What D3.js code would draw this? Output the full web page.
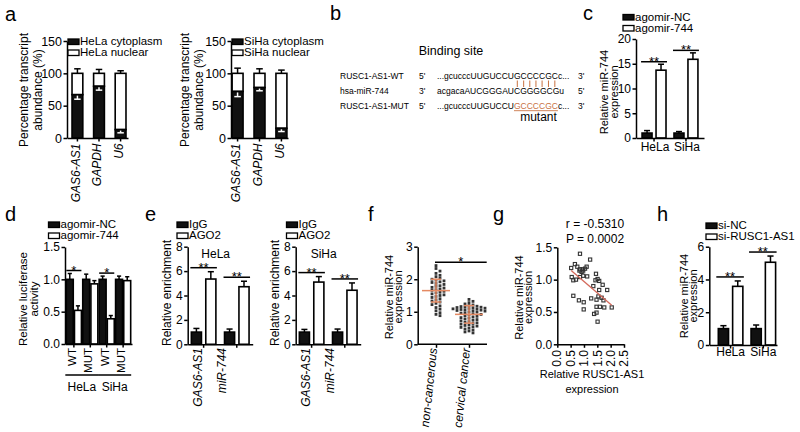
<!DOCTYPE html>
<html><head><meta charset="utf-8">
<script src="https://cdn.jsdelivr.net/npm/d3@7"></script>
<style>body{margin:0;background:#fff;}svg{display:block;}</style>
</head><body>
<svg id="chart" width="800" height="432"></svg>
<script>
// ---------------- DATA ----------------
// Panel a
const aCategories = ["GAS6-AS1", "GAPDH", "U6"];
const aTicks = [0, 50, 100, 150];
const aHelaCyto = [67, 80, 13];
const aHelaCytoErr = [7, 6, 5];
const aHelaNucErr = [7, 6, 4];
const aSihaCyto = [72, 78, 15];
const aSihaCytoErr = [8, 5, 5];
const aSihaNucErr = [8, 7, 5];
// Panel b
const bRowLabels = ["RUSC1-AS1-WT", "hsa-miR-744", "RUSC1-AS1-MUT"];
const bLeftEnds = ["5'", "3'", "5'"];
const bRightEnds = ["3'", "5'", "3'"];
const bSeqPrefix = ["...gcucccUUGUCCU", "acgacaAUCGGGAUCGGGGCGu", "...gcucccUUGUCCU"];
const bSeqSite = ["GCCCCGC", "", "GCCCCGC"];
const bSeqSuffix = ["c...", "", "c..."];
// Panel c
const cGroups = ["HeLa", "SiHa"];
const cSeries = ["agomir-NC", "agomir-744"];
const cValues = [[1.0, 13.7], [1.0, 15.9]];
const cErrors = [[0.5, 1.2], [0.3, 1.3]];
const cTicks = [0, 5, 10, 15, 20];
// Panel d
const dGroups = ["HeLa-WT", "HeLa-MUT", "SiHa-WT", "SiHa-MUT"];
const dGroupLabels = ["WT", "MUT", "WT", "MUT"];
const dCells = ["HeLa", "SiHa"];
const dSeries = ["agomir-NC", "agomir-744"];
const dValues = [[1.0, 0.52], [1.0, 0.93], [1.0, 0.39], [1.0, 0.98]];
const dErrors = [[0.09, 0.07], [0.08, 0.05], [0.05, 0.05], [0.05, 0.06]];
const dTicks = [0, 0.5, 1.0, 1.5];
// Panel e
const eGroups = ["GAS6-AS1", "miR-744"];
const eSeries = ["IgG", "AGO2"];
const eHelaValues = [[1.0, 5.35], [1.0, 4.72]];
const eHelaErrors = [[0.3, 0.6], [0.25, 0.45]];
const eSihaValues = [[1.0, 5.1], [1.0, 4.43]];
const eSihaErrors = [[0.22, 0.45], [0.25, 0.6]];
const eTicks = [0, 2, 4, 6, 8];
// Panel f
const fGroups = ["non-cancerous", "cervical cancer"];
const fNonCancerous = [2.42, 2.33, 2.25, 2.18, 2.12, 2.08, 2.03, 2.0, 1.97, 1.95, 1.92, 1.9, 1.87, 1.84,
  1.8, 1.78, 1.75, 1.73, 1.7, 1.68, 1.66, 1.63, 1.6, 1.58, 1.55, 1.52, 1.5, 1.47, 1.44, 1.4, 1.37,
  1.33, 1.3, 1.26, 1.22, 1.18, 1.13, 1.08, 1.03, 0.97, 0.92, 0.88];
const fCervical = [1.38, 1.32, 1.28, 1.24, 1.21, 1.19, 1.17, 1.16, 1.15, 1.14, 1.13, 1.12, 1.11, 1.1,
  1.09, 1.08, 1.07, 1.06, 1.05, 1.04, 1.03, 1.02, 1.0, 0.99, 0.97, 0.96, 0.94, 0.92, 0.9, 0.88, 0.86,
  0.84, 0.82, 0.8, 0.78, 0.76, 0.74, 0.72, 0.7, 0.68, 0.66, 0.64, 0.62, 0.6, 0.58, 0.56, 0.54, 0.52,
  0.5, 0.47, 0.44, 0.41, 0.38, 0.35];
const fMeans = [1.65, 0.92];
const fSD = [0.35, 0.27];
const fTicks = [0, 1, 2, 3];
// Panel g
const gRUSC1 = [0.85, 1.23, 0.66, 0.52, 0.75, 0.85, 0.95, 1.04, 1.10, 0.91, 0.83, 0.97, 0.54, 0.70, 0.60, 0.85, 0.97, 1.12, 1.45, 1.51, 1.43, 1.57, 1.70, 1.35, 1.57, 1.87, 0.60, 0.81, 0.99, 1.27, 1.47, 1.66, 1.73, 2.04, 0.99, 1.47, 1.60, 1.76, 1.38, 1.47, 1.51, 1.54];
const gMiR744 = [1.40, 1.31, 1.24, 1.18, 1.20, 1.16, 1.16, 1.17, 1.20, 1.12, 1.14, 1.14, 1.04, 1.00, 0.99, 1.04, 1.06, 1.05, 1.09, 1.01, 0.99, 0.98, 0.92, 0.90, 0.84, 0.84, 0.75, 0.68, 0.65, 0.71, 0.69, 0.72, 0.68, 0.57, 0.54, 0.58, 0.58, 0.57, 0.47, 0.49, 0.35, 0.74];
const gTicksY = [0, 0.5, 1.0, 1.5];
const gTicksX = [0, 0.5, 1.0, 1.5, 2.0, 2.5];
const gStats = ["r = -0.5310", "P = 0.0002"];
// Panel h
const hGroups = ["HeLa", "SiHa"];
const hSeries = ["si-NC", "si-RUSC1-AS1"];
const hValues = [[1.0, 3.58], [1.0, 5.05]];
const hErrors = [[0.18, 0.33], [0.22, 0.38]];
const hTicks = [0, 2, 4, 6];

// ---------------- HELPERS ----------------
const FONT = '"Liberation Sans", Arial, Helvetica, sans-serif';
const svg = d3.select("#chart");
const BLACK = "#111", ORANGE = "#c8713f", SALMON = "#e58a63";

function txt(g, x, y, s, o = {}) {
  const t = g.append("text").attr("x", x).attr("y", y).text(s)
    .attr("font-family", FONT).attr("font-size", o.fs || 12)
    .attr("fill", o.fill || "#000").attr("text-anchor", o.anchor || "start");
  if (o.style) t.attr("font-style", o.style);
  if (o.dy) t.attr("dy", o.dy);
  if (o.rot != null) t.attr("transform", `rotate(${o.rot},${x},${y})`);
  return t;
}
function styleAxis(sel, fs) {
  sel.attr("font-family", FONT).attr("font-size", fs);
  sel.select(".domain").attr("stroke", "#000").attr("stroke-width", 1.5);
  sel.selectAll(".tick line").attr("stroke", "#000").attr("stroke-width", 1.5);
  sel.selectAll(".tick text").attr("fill", "#000");
}
function yAxis(g, y, x, ticks, fmt, fs) {
  g.append("g").attr("transform", `translate(${x},0)`)
    .call(d3.axisLeft(y).tickValues(ticks).tickFormat(fmt).tickSize(3.5).tickPadding(1.5).tickSizeOuter(0))
    .call(styleAxis, fs);
}
function yLabel(g, lines, xs, cy, fs) {
  lines.forEach((l, i) => txt(g, xs[i], cy, l, {fs, anchor: "middle", rot: -90}));
}
function legend(g, x, baseY, items, fs, lh = 11, rw = 11, rh = 5.5) {
  items.forEach((it, i) => {
    const by = baseY + i * lh;
    g.append("rect").attr("x", x).attr("y", by - rh - 0.5).attr("width", rw).attr("height", rh)
      .attr("fill", it.fill).attr("stroke", "#000").attr("stroke-width", 1.3);
    txt(g, x + rw + 1, by, it.label, {fs});
  });
}
function sig(g, x1, x2, yl, s) {
  g.append("line").attr("x1", x1).attr("x2", x2).attr("y1", yl).attr("y2", yl)
    .attr("stroke", "#000").attr("stroke-width", 1.5);
  txt(g, (x1 + x2) / 2, yl + 4, s, {fs: 13, anchor: "middle"});
}
function errBar(g, cx, yFrom, yTo, cap, color) {
  g.append("line").attr("x1", cx).attr("x2", cx).attr("y1", yFrom).attr("y2", yTo)
    .attr("stroke", color).attr("stroke-width", 1.5);
  g.append("line").attr("x1", cx - cap / 2).attr("x2", cx + cap / 2).attr("y1", yTo).attr("y2", yTo)
    .attr("stroke", color).attr("stroke-width", 1.5);
}
function barPanel(o) {
  const g = svg.append("g");
  const y = d3.scaleLinear().domain([0, o.yMax]).range([o.y0, o.y1]);
  const x0 = d3.scaleBand().domain(o.groups).range([o.xa, o.xb])
    .paddingInner(o.pi).paddingOuter(o.po).align(o.align == null ? 0.5 : o.align);
  const x1 = d3.scaleBand().domain(o.series).range([0, x0.bandwidth()]).paddingInner(o.ip);
  o.groups.forEach((grp, gi) => {
    o.series.forEach((s, si) => {
      const v = o.values[gi][si], e = o.errors[gi][si];
      const bx = x0(grp) + x1(s), bw = x1.bandwidth();
      errBar(g, bx + bw / 2, y(v), y(v + e), bw * 0.6, "#000");
      g.append("rect").attr("x", bx).attr("y", y(v)).attr("width", bw).attr("height", y(0) - y(v))
        .attr("fill", si === 0 ? BLACK : "#fff").attr("stroke", "#000").attr("stroke-width", 1.6);
    });
  });
  g.append("g").attr("transform", `translate(0,${o.y0})`)
    .call(d3.axisBottom(x0).tickSize(3.5).tickFormat("").tickSizeOuter(0)).call(styleAxis, o.fs);
  yAxis(g, y, o.xa, o.ticks, o.fmt || d3.format("d"), o.fs);
  return {g, x0, x1, y};
}

// ---------------- PANEL LETTERS ----------------
[["a", 5, 21], ["b", 330, 20], ["c", 583, 20], ["d", 5, 221], ["e", 145, 221],
 ["f", 368, 221], ["g", 493, 221], ["h", 657, 221]].forEach(([l, x, y]) => txt(svg, x, y, l, {fs: 20}));

// ---------------- PANEL a ----------------
function stacked(xa, xb, po, align, cyto, cytoErr, nucErr, cell, ylx) {
  const g = svg.append("g");
  const y = d3.scaleLinear().domain([0, 150]).range([138, 41]);
  const x = d3.scaleBand().domain(aCategories).range([xa, xb]).paddingInner(0.5).paddingOuter(po).align(align);
  aCategories.forEach((c, i) => {
    const bx = x(c), bw = x.bandwidth(), cx = bx + bw / 2;
    errBar(g, cx, y(100), y(100 + nucErr[i]), bw * 0.6, "#000");
    g.append("rect").attr("x", bx).attr("y", y(100)).attr("width", bw).attr("height", y(cyto[i]) - y(100))
      .attr("fill", "#fff").attr("stroke", "#000").attr("stroke-width", 1.6);
    g.append("rect").attr("x", bx).attr("y", y(cyto[i])).attr("width", bw).attr("height", y(0) - y(cyto[i]))
      .attr("fill", BLACK).attr("stroke", "#000").attr("stroke-width", 1.6);
    errBar(g, cx, y(cyto[i]) + 1, y(cyto[i] - cytoErr[i]), bw * 0.6, "#fff");
    txt(g, cx - 2, 143.5, c, {fs: 12, anchor: "end", rot: -90, dy: "0.35em", style: "italic"});
  });
  g.append("g").attr("transform", "translate(0,138)")
    .call(d3.axisBottom(x).tickSize(3.5).tickFormat("").tickSizeOuter(0)).call(styleAxis, 12);
  yAxis(g, y, xa, aTicks, d3.format("d"), 12.5);
  yLabel(g, ["Percentage transcript", "abundance (%)"], ylx, 90, 12);
  legend(g, xa + 1, 45, [{label: cell + " cytoplasm", fill: BLACK}, {label: cell + " nuclear", fill: "#fff"}], 11.5, 11);
}
stacked(67, 128, 0.163, 0.714, aHelaCyto, aHelaCytoErr, aHelaNucErr, "HeLa", [28, 42]);
stacked(231, 288, 0.05, 0.5, aSihaCyto, aSihaCytoErr, aSihaNucErr, "SiHa", [189, 203]);

// ---------------- PANEL b ----------------
{
  const g = svg.append("g");
  txt(g, 451, 54.5, "Binding site", {fs: 12.5, anchor: "middle"});
  const rowY = [79.3, 93.6, 109.3];
  let siteText = null;
  bRowLabels.forEach((lab, i) => {
    txt(g, 340, rowY[i], lab, {fs: 8.5});
    txt(g, 419, rowY[i], bLeftEnds[i], {fs: 8.5});
    txt(g, 578, rowY[i], bRightEnds[i], {fs: 8.5});
    const t = txt(g, 437, rowY[i], "", {fs: 8.5});
    t.append("tspan").text(bSeqPrefix[i]);
    if (bSeqSite[i]) {
      const ts = t.append("tspan").text(bSeqSite[i]);
      if (i === 2) ts.attr("fill", ORANGE).attr("text-decoration", "underline");
    }
    if (bSeqSuffix[i]) t.append("tspan").text(bSeqSuffix[i]);
    if (i === 0) siteText = t;
  });
  const node = siteText.node();
  const start = bSeqPrefix[0].length;
  for (let k = 0; k < bSeqSite[0].length; k++) {
    const p = node.getStartPositionOfChar(start + k).x + node.getSubStringLength(start + k, 1) / 2;
    g.append("line").attr("x1", p).attr("x2", p).attr("y1", 80.5).attr("y2", 87)
      .attr("stroke", ORANGE).attr("stroke-width", 1);
  }
  txt(g, 538.5, 121, "mutant", {fs: 12, anchor: "middle"});
}

// ---------------- PANEL c ----------------
{
  const p = barPanel({groups: cGroups, series: cSeries, values: cValues, errors: cErrors,
    yMax: 20, y0: 138, y1: 39, xa: 636, xb: 704, pi: 0.25, po: 0.19, ip: 0.286, ticks: cTicks, fs: 12});
  cGroups.forEach((grp, gi) => {
    const cx = p.x0(grp) + p.x0.bandwidth() / 2;
    txt(p.g, cx + 1, 151, grp, {fs: 12, anchor: "middle"});
    const top = d3.max(cValues[gi].map((v, i) => v + cErrors[gi][i]));
    sig(p.g, p.x0(grp) - 1, p.x0(grp) + p.x0.bandwidth() + 1, p.y(top) - 2.5, "**");
  });
  yLabel(p.g, ["Relative  miR-744", "expression"], [608, 618], 92, 11);
  legend(p.g, 623, 20.5, cSeries.map((s, i) => ({label: s, fill: i ? "#fff" : BLACK})), 11.5, 11);
}

// ---------------- PANEL d ----------------
{
  const p = barPanel({groups: dGroups, series: dSeries, values: dValues, errors: dErrors,
    yMax: 1.5, y0: 344, y1: 247, xa: 65, xb: 132, pi: 0.08, po: 0.08, ip: 0.15, ticks: dTicks,
    fmt: d3.format(".1f"), fs: 12});
  dGroups.forEach((grp, gi) => {
    const cx = p.x0(grp) + p.x0.bandwidth() / 2;
    txt(p.g, cx - 2, 348, dGroupLabels[gi], {fs: 11.5, anchor: "end", rot: -90, dy: "0.35em"});
  });
  [0, 2].forEach(gi => {
    const top = d3.max(dValues[gi].map((v, i) => v + dErrors[gi][i]));
    sig(p.g, p.x0(dGroups[gi]), p.x0(dGroups[gi]) + p.x0.bandwidth(), p.y(top) - 3, "*");
  });
  dCells.forEach((cell, ci) => {
    const xs = p.x0(dGroups[ci * 2]) - 1, xe = p.x0(dGroups[ci * 2 + 1]) + p.x0.bandwidth() + 0.5;
    p.g.append("line").attr("x1", xs).attr("x2", xe).attr("y1", 375).attr("y2", 375).attr("stroke", "#000").attr("stroke-width", 1.3);
    txt(p.g, (xs + xe) / 2, 390.5, cell, {fs: 12, anchor: "middle"});
  });
  yLabel(p.g, ["Relative luciferase", "activity"], [27, 38], 299, 11.5);
  legend(p.g, 48.5, 228, dSeries.map((s, i) => ({label: s, fill: i ? "#fff" : BLACK})), 11.5, 11);
}

// ---------------- PANEL e ----------------
function ePanel(xa, vals, errs, cell, ylx, legX) {
  const p = barPanel({groups: eGroups, series: eSeries, values: vals, errors: errs,
    yMax: 8, y0: 344.3, y1: 246.7, xa: xa, xb: xa + 65, pi: 0.26, po: 0.11, ip: 0.3, ticks: eTicks, fs: 12});
  const offs = [-6, -15];
  eGroups.forEach((grp, gi) => {
    const cx = p.x0(grp) + p.x0.bandwidth() / 2;
    txt(p.g, cx + offs[gi], 348, grp, {fs: 12, anchor: "end", rot: -90, dy: "0.35em", style: "italic"});
    const top = d3.max(vals[gi].map((v, i) => v + errs[gi][i]));
    sig(p.g, p.x0(grp) - 1, p.x0(grp) + p.x0.bandwidth() + 1, p.y(top) - 4, "**");
  });
  txt(p.g, xa + 28, 258, cell, {fs: 12, anchor: "middle"});
  yLabel(p.g, ["Relative enrichment"], [ylx], 293, 12);
  legend(p.g, legX, 228, eSeries.map((s, i) => ({label: s, fill: i ? "#fff" : BLACK})), 11.5, 11);
}
ePanel(187.7, eHelaValues, eHelaErrors, "HeLa", 171, 177);
ePanel(295.7, eSihaValues, eSihaErrors, "SiHa", 279, 286.5);

// ---------------- PANEL f ----------------
{
  const g = svg.append("g");
  const y = d3.scaleLinear().domain([0, 3]).range([344.3, 246.7]);
  const x = d3.scalePoint().domain(fGroups).range([436, 469]);
  const sets = [fNonCancerous, fCervical];
  sets.forEach((arr, gi) => {
    const cx = x(fGroups[gi]);
    const placed = [];
    arr.slice().sort((a, b) => b - a).forEach(v => {
      const py = y(v);
      let off = 0;
      for (let k = 0; k < 40; k++) {
        const cand = (k % 2 ? 1 : -1) * Math.ceil(k / 2) * 4;
        if (!placed.some(q => Math.abs(q.y - py) < 2.8 && Math.abs(q.x - (cx + cand)) < 3.6)) { off = cand; break; }
      }
      placed.push({x: cx + off, y: py});
    });
    g.selectAll(null).data(placed).enter().append("rect")
      .attr("x", d => d.x - 1.4).attr("y", d => d.y - 1.4).attr("width", 2.8).attr("height", 2.8).attr("fill", "#333");
    const m = fMeans[gi], s = fSD[gi];
    g.append("line").attr("x1", cx - 14).attr("x2", cx + 14).attr("y1", y(m)).attr("y2", y(m)).attr("stroke", SALMON).attr("stroke-width", 1.5);
    g.append("line").attr("x1", cx).attr("x2", cx).attr("y1", y(m - s)).attr("y2", y(m + s)).attr("stroke", SALMON).attr("stroke-width", 1.5);
    [m - s, m + s].forEach(v => g.append("line").attr("x1", cx - 5).attr("x2", cx + 5).attr("y1", y(v)).attr("y2", y(v)).attr("stroke", SALMON).attr("stroke-width", 1.5));
    txt(g, cx - 3, 348, fGroups[gi], {fs: 12, anchor: "end", rot: -84, dy: "0.35em", style: "italic"});
  });
  g.append("g").attr("transform", "translate(0,344.3)")
    .call(d3.axisBottom(x).tickSize(3.5).tickFormat("").tickSizeOuter(0)).call(styleAxis, 12);
  g.select(".domain").attr("d", "M417.7,0H487");
  yAxis(g, y, 417.7, fTicks, d3.format("d"), 12);
  sig(g, 435, 486.7, 262.3, "*");
  yLabel(g, ["Relative  miR-744", "expression"], [393, 402], 297, 11);
}

// ---------------- PANEL g ----------------
{
  const g = svg.append("g");
  const x = d3.scaleLinear().domain([0, 2.5]).range([557.3, 624]);
  const y = d3.scaleLinear().domain([0, 1.5]).range([344.3, 247.3]);
  g.selectAll(null).data(gRUSC1).enter().append("rect")
    .attr("x", (d) => x(d) - 1.6).attr("y", (d, i) => y(gMiR744[i]) - 1.6)
    .attr("width", 3.2).attr("height", 3.2).attr("fill", "none").attr("stroke", "#333").attr("stroke-width", 1.1);
  const mx = d3.mean(gRUSC1), my = d3.mean(gMiR744);
  const slope = d3.sum(gRUSC1, (v, i) => (v - mx) * (gMiR744[i] - my)) / d3.sum(gRUSC1, v => (v - mx) ** 2);
  const ic = my - slope * mx;
  const [x0, x1] = d3.extent(gRUSC1);
  g.append("line").attr("x1", x(x0)).attr("x2", x(x1)).attr("y1", y(ic + slope * x0)).attr("y2", y(ic + slope * x1))
    .attr("stroke", "#d46a5c").attr("stroke-width", 1.3);
  g.append("g").attr("transform", "translate(0,344.3)")
    .call(d3.axisBottom(x).tickValues(gTicksX).tickFormat("").tickSize(3.5).tickSizeOuter(0)).call(styleAxis, 12);
  const fmt1 = d3.format(".1f");
  gTicksX.forEach(v => txt(g, x(v), 350, fmt1(v), {fs: 12, anchor: "end", rot: -90, dy: "0.35em"}));
  yAxis(g, y, 557.3, gTicksY, fmt1, 12);
  txt(g, 595, 228, gStats[0], {fs: 12, anchor: "middle"});
  txt(g, 595, 243, gStats[1], {fs: 12, anchor: "middle"});
  yLabel(g, ["Relative  miR-744", "expression"], [523, 532], 297.5, 11);
  txt(g, 592, 378, "Relative  RUSC1-AS1", {fs: 11, anchor: "middle"});
  txt(g, 592, 393, "expression", {fs: 11, anchor: "middle"});
}

// ---------------- PANEL h ----------------
{
  const p = barPanel({groups: hGroups, series: hSeries, values: hValues, errors: hErrors,
    yMax: 6, y0: 345, y1: 246.7, xa: 709.3, xb: 777, pi: 0.25, po: 0.159, align: 0.865, ip: 0.286, ticks: hTicks, fs: 12});
  hGroups.forEach((grp, gi) => {
    const cx = p.x0(grp) + p.x0.bandwidth() / 2;
    txt(p.g, cx, 355.5, grp, {fs: 12, anchor: "middle"});
    const top = d3.max(hValues[gi].map((v, i) => v + hErrors[gi][i]));
    sig(p.g, p.x0(grp) - 2, p.x0(grp) + p.x0.bandwidth() + 1, p.y(top) - 4, "**");
  });
  yLabel(p.g, ["Relative  miR-744", "expression"], [688, 697], 296, 11);
  legend(p.g, 706, 229, hSeries.map((s, i) => ({label: s, fill: i ? "#fff" : BLACK})), 11.5, 11);
}
</script>
</body></html>
